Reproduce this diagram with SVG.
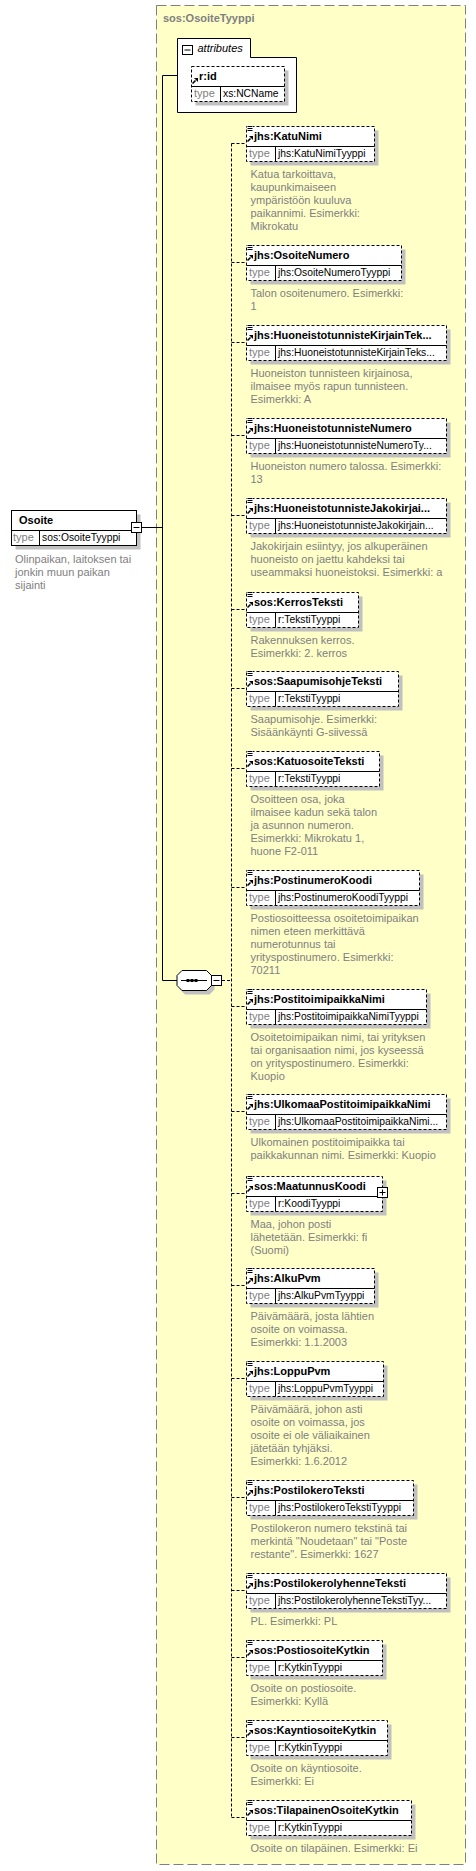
<svg xmlns="http://www.w3.org/2000/svg" width="476" height="1871" viewBox="0 0 476 1871">
<style>
text{font-family:"Liberation Sans",Arial,sans-serif}
.nm{font-size:11px;font-weight:bold;fill:#000}
.tl{font-size:11px;fill:#808080}
.tv{font-size:10.3px;fill:#000}
.ds{font-size:11px;fill:#808080}
.ttl{font-size:11px;font-weight:bold;fill:#808080}
.box{fill:#fff;stroke:#000;stroke-width:1}
.opt{fill:#fff;stroke:#000;stroke-width:1;stroke-dasharray:3,2}
.sh{fill:#c0c0c0}
.ln{stroke:#000;stroke-width:1;fill:none}
.dl{stroke:#000;stroke-width:1;fill:none;stroke-dasharray:3,2}
</style>
<defs>
<g id="docicon"><rect x="-0.5" y="-0.5" width="6" height="5.5" fill="#fff"/><path d="M0,0.5h5M0,2.5h5M0,4.5h5" stroke="#000" stroke-width="1"/></g>
<g id="refarrow"><path d="M0.5,5.5L3.5,2.5" stroke="#000" stroke-width="1.6"/><path d="M2,0H6V4Z" fill="#000"/></g>
</defs>
<rect x="0" y="0" width="476" height="1871" fill="#fff"/>
<rect x="156.5" y="5.5" width="309" height="1859" fill="#ffffc8" stroke="#808080" stroke-width="1" stroke-dasharray="10,4"/>
<text class="ttl" x="163" y="22">sos:OsoiteTyyppi</text>

<g id="connectors">
<path class="ln" d="M141.5,527.5H162.5M162.5,75.5V980.5M162.5,75.5H177.5M162.5,980.5H177"/>
<path class="dl" d="M222,980.5H231.5M231.5,143.5V1817.5"/>
<path class="dl" d="M231.5,143.5H246M231.5,262.5H246M231.5,342.5H246M231.5,435.5H246M231.5,515.5H246M231.5,609.5H246M231.5,688.5H246M231.5,768.5H246M231.5,887.5H246M231.5,1006.5H246M231.5,1111.5H246M231.5,1193.5H246M231.5,1285.5H246M231.5,1378.5H246M231.5,1497.5H246M231.5,1590.5H246M231.5,1657.5H246M231.5,1737.5H246M231.5,1817.5H246"/>
</g>

<g id="Osoite">
<rect class="sh" x="15.5" y="514.5" width="125" height="35"/>
<rect class="box" x="11.5" y="510.5" width="125" height="35"/>
<path class="ln" d="M11.5,530.5H136.5M39.5,530.5V545.5"/>
<text class="nm" x="19" y="524">Osoite</text>
<text class="tl" x="13" y="541">type</text>
<text class="tv" x="42" y="541">sos:OsoiteTyyppi</text>
<rect class="box" x="131.5" y="522.5" width="10" height="10"/>
<path class="ln" d="M133.5,527.5H139.5"/>
<text class="ds" x="15" y="563">Olinpaikan, laitoksen tai</text>
<text class="ds" x="15" y="576">jonkin muun paikan</text>
<text class="ds" x="15" y="589">sijainti</text>
</g>

<g id="attributes">
<path class="box" d="M177.5,38.5H250.5V57.5H296.5V112.5H177.5Z"/>
<rect class="box" x="182.5" y="45.5" width="10" height="9"/>
<path class="ln" d="M184.5,50H190.5"/>
<text x="197.5" y="51.5" style="font-size:11px;font-style:italic;fill:#000">attributes</text>
</g>

<g id="r_id">
<rect class="sh" x="195.5" y="70.5" width="93" height="35"/>
<rect class="opt" x="191.5" y="66.5" width="93" height="35"/>
<path class="ln" d="M191.5,86.5H284.5M220.5,86.5V101.5"/>
<use href="#refarrow" x="192" y="78"/>
<text class="nm" x="199" y="80">r:id</text>
<text class="tl" x="194" y="97">type</text>
<text class="tv" x="223" y="97">xs:NCName</text>
</g>

<g id="sequence">
<path class="sh" d="M185,974.5H209.5L214.5,979.5V989.5L209.5,994.5H185L180,989.5V979.5Z"/>
<path class="box" d="M182,970.5H206.5L211.5,975.5V985.5L206.5,990.5H182L177,985.5V975.5Z"/>
<path class="ln" d="M181,980.5H207"/>
<rect x="186.5" y="979" width="3" height="3" fill="#000"/>
<rect x="190.5" y="979" width="3" height="3" fill="#000"/>
<rect x="194.5" y="979" width="3" height="3" fill="#000"/>
<rect class="box" x="211.5" y="975.5" width="10" height="10"/>
<path class="ln" d="M213.5,980.5H219.5"/>
</g>

<g id="KatuNimi" transform="translate(0,126)">
<rect class="sh" x="250.5" y="4.5" width="128" height="35"/>
<rect class="opt" x="246.5" y="0.5" width="128" height="35"/>
<path class="ln" d="M246.5,20.5H374.5M275.5,20.5V35.5"/>
<use href="#docicon" x="247.5" y="0"/><use href="#refarrow" x="247" y="10"/>
<text class="nm" x="254" y="14">jhs:KatuNimi</text>
<text class="tl" x="249" y="31">type</text>
<text class="tv" x="278" y="31">jhs:KatuNimiTyyppi</text>
<text class="ds" x="250.5" y="52">Katua tarkoittava,</text>
<text class="ds" x="250.5" y="65">kaupunkimaiseen</text>
<text class="ds" x="250.5" y="78">ympäristöön kuuluva</text>
<text class="ds" x="250.5" y="91">paikannimi. Esimerkki:</text>
<text class="ds" x="250.5" y="104">Mikrokatu</text>
</g>

<g id="OsoiteNumero" transform="translate(0,245)">
<rect class="sh" x="250.5" y="4.5" width="155" height="35"/>
<rect class="opt" x="246.5" y="0.5" width="155" height="35"/>
<path class="ln" d="M246.5,20.5H401.5M275.5,20.5V35.5"/>
<use href="#docicon" x="247.5" y="0"/><use href="#refarrow" x="247" y="10"/>
<text class="nm" x="254" y="14">jhs:OsoiteNumero</text>
<text class="tl" x="249" y="31">type</text>
<text class="tv" x="278" y="31">jhs:OsoiteNumeroTyyppi</text>
<text class="ds" x="250.5" y="52">Talon osoitenumero. Esimerkki:</text>
<text class="ds" x="250.5" y="65">1</text>
</g>

<g id="HuoneistotunnisteKirjainTeksti" transform="translate(0,325)">
<rect class="sh" x="250.5" y="4.5" width="200" height="35"/>
<rect class="opt" x="246.5" y="0.5" width="200" height="35"/>
<path class="ln" d="M246.5,20.5H446.5M275.5,20.5V35.5"/>
<use href="#docicon" x="247.5" y="0"/><use href="#refarrow" x="247" y="10"/>
<text class="nm" x="254" y="14">jhs:HuoneistotunnisteKirjainTek...</text>
<text class="tl" x="249" y="31">type</text>
<text class="tv" x="278" y="31">jhs:HuoneistotunnisteKirjainTeks...</text>
<text class="ds" x="250.5" y="52">Huoneiston tunnisteen kirjainosa,</text>
<text class="ds" x="250.5" y="65">ilmaisee myös rapun tunnisteen.</text>
<text class="ds" x="250.5" y="78">Esimerkki: A</text>
</g>

<g id="HuoneistotunnisteNumero" transform="translate(0,418)">
<rect class="sh" x="250.5" y="4.5" width="200" height="35"/>
<rect class="opt" x="246.5" y="0.5" width="200" height="35"/>
<path class="ln" d="M246.5,20.5H446.5M275.5,20.5V35.5"/>
<use href="#docicon" x="247.5" y="0"/><use href="#refarrow" x="247" y="10"/>
<text class="nm" x="254" y="14">jhs:HuoneistotunnisteNumero</text>
<text class="tl" x="249" y="31">type</text>
<text class="tv" x="278" y="31">jhs:HuoneistotunnisteNumeroTy...</text>
<text class="ds" x="250.5" y="52">Huoneiston numero talossa. Esimerkki:</text>
<text class="ds" x="250.5" y="65">13</text>
</g>

<g id="HuoneistotunnisteJakokirjain" transform="translate(0,498)">
<rect class="sh" x="250.5" y="4.5" width="200" height="35"/>
<rect class="opt" x="246.5" y="0.5" width="200" height="35"/>
<path class="ln" d="M246.5,20.5H446.5M275.5,20.5V35.5"/>
<use href="#docicon" x="247.5" y="0"/><use href="#refarrow" x="247" y="10"/>
<text class="nm" x="254" y="14">jhs:HuoneistotunnisteJakokirjai...</text>
<text class="tl" x="249" y="31">type</text>
<text class="tv" x="278" y="31">jhs:HuoneistotunnisteJakokirjain...</text>
<text class="ds" x="250.5" y="52">Jakokirjain esiintyy, jos alkuperäinen</text>
<text class="ds" x="250.5" y="65">huoneisto on jaettu kahdeksi tai</text>
<text class="ds" x="250.5" y="78">useammaksi huoneistoksi. Esimerkki: a</text>
</g>

<g id="KerrosTeksti" transform="translate(0,592)">
<rect class="sh" x="250.5" y="4.5" width="112" height="35"/>
<rect class="opt" x="246.5" y="0.5" width="112" height="35"/>
<path class="ln" d="M246.5,20.5H358.5M275.5,20.5V35.5"/>
<use href="#docicon" x="247.5" y="0"/><use href="#refarrow" x="247" y="10"/>
<text class="nm" x="254" y="14">sos:KerrosTeksti</text>
<text class="tl" x="249" y="31">type</text>
<text class="tv" x="278" y="31">r:TekstiTyyppi</text>
<text class="ds" x="250.5" y="52">Rakennuksen kerros.</text>
<text class="ds" x="250.5" y="65">Esimerkki: 2. kerros</text>
</g>

<g id="SaapumisohjeTeksti" transform="translate(0,671)">
<rect class="sh" x="250.5" y="4.5" width="152" height="35"/>
<rect class="opt" x="246.5" y="0.5" width="152" height="35"/>
<path class="ln" d="M246.5,20.5H398.5M275.5,20.5V35.5"/>
<use href="#docicon" x="247.5" y="0"/><use href="#refarrow" x="247" y="10"/>
<text class="nm" x="254" y="14">sos:SaapumisohjeTeksti</text>
<text class="tl" x="249" y="31">type</text>
<text class="tv" x="278" y="31">r:TekstiTyyppi</text>
<text class="ds" x="250.5" y="52">Saapumisohje. Esimerkki:</text>
<text class="ds" x="250.5" y="65">Sisäänkäynti G-siivessä</text>
</g>

<g id="KatuosoiteTeksti" transform="translate(0,751)">
<rect class="sh" x="250.5" y="4.5" width="133" height="35"/>
<rect class="opt" x="246.5" y="0.5" width="133" height="35"/>
<path class="ln" d="M246.5,20.5H379.5M275.5,20.5V35.5"/>
<use href="#docicon" x="247.5" y="0"/><use href="#refarrow" x="247" y="10"/>
<text class="nm" x="254" y="14">sos:KatuosoiteTeksti</text>
<text class="tl" x="249" y="31">type</text>
<text class="tv" x="278" y="31">r:TekstiTyyppi</text>
<text class="ds" x="250.5" y="52">Osoitteen osa, joka</text>
<text class="ds" x="250.5" y="65">ilmaisee kadun sekä talon</text>
<text class="ds" x="250.5" y="78">ja asunnon numeron.</text>
<text class="ds" x="250.5" y="91">Esimerkki: Mikrokatu 1,</text>
<text class="ds" x="250.5" y="104">huone F2-011</text>
</g>

<g id="PostinumeroKoodi" transform="translate(0,870)">
<rect class="sh" x="250.5" y="4.5" width="173" height="35"/>
<rect class="opt" x="246.5" y="0.5" width="173" height="35"/>
<path class="ln" d="M246.5,20.5H419.5M275.5,20.5V35.5"/>
<use href="#docicon" x="247.5" y="0"/><use href="#refarrow" x="247" y="10"/>
<text class="nm" x="254" y="14">jhs:PostinumeroKoodi</text>
<text class="tl" x="249" y="31">type</text>
<text class="tv" x="278" y="31">jhs:PostinumeroKoodiTyyppi</text>
<text class="ds" x="250.5" y="52">Postiosoitteessa osoitetoimipaikan</text>
<text class="ds" x="250.5" y="65">nimen eteen merkittävä</text>
<text class="ds" x="250.5" y="78">numerotunnus tai</text>
<text class="ds" x="250.5" y="91">yrityspostinumero. Esimerkki:</text>
<text class="ds" x="250.5" y="104">70211</text>
</g>

<g id="PostitoimipaikkaNimi" transform="translate(0,989)">
<rect class="sh" x="250.5" y="4.5" width="180" height="35"/>
<rect class="opt" x="246.5" y="0.5" width="180" height="35"/>
<path class="ln" d="M246.5,20.5H426.5M275.5,20.5V35.5"/>
<use href="#docicon" x="247.5" y="0"/><use href="#refarrow" x="247" y="10"/>
<text class="nm" x="254" y="14">jhs:PostitoimipaikkaNimi</text>
<text class="tl" x="249" y="31">type</text>
<text class="tv" x="278" y="31">jhs:PostitoimipaikkaNimiTyyppi</text>
<text class="ds" x="250.5" y="52">Osoitetoimipaikan nimi, tai yrityksen</text>
<text class="ds" x="250.5" y="65">tai organisaation nimi, jos kyseessä</text>
<text class="ds" x="250.5" y="78">on yrityspostinumero. Esimerkki:</text>
<text class="ds" x="250.5" y="91">Kuopio</text>
</g>

<g id="UlkomaaPostitoimipaikkaNimi" transform="translate(0,1094)">
<rect class="sh" x="250.5" y="4.5" width="200" height="35"/>
<rect class="opt" x="246.5" y="0.5" width="200" height="35"/>
<path class="ln" d="M246.5,20.5H446.5M275.5,20.5V35.5"/>
<use href="#docicon" x="247.5" y="0"/><use href="#refarrow" x="247" y="10"/>
<text class="nm" x="254" y="14">jhs:UlkomaaPostitoimipaikkaNimi</text>
<text class="tl" x="249" y="31">type</text>
<text class="tv" x="278" y="31">jhs:UlkomaaPostitoimipaikkaNimi...</text>
<text class="ds" x="250.5" y="52">Ulkomainen postitoimipaikka tai</text>
<text class="ds" x="250.5" y="65">paikkakunnan nimi. Esimerkki: Kuopio</text>
</g>

<g id="MaatunnusKoodi" transform="translate(0,1176)">
<rect class="sh" x="250.5" y="4.5" width="136" height="35"/>
<rect class="opt" x="246.5" y="0.5" width="136" height="35"/>
<path class="ln" d="M246.5,20.5H382.5M275.5,20.5V35.5"/>
<use href="#docicon" x="247.5" y="0"/><use href="#refarrow" x="247" y="10"/>
<text class="nm" x="254" y="14">sos:MaatunnusKoodi</text>
<text class="tl" x="249" y="31">type</text>
<text class="tv" x="278" y="31">r:KoodiTyyppi</text>
<rect class="box" x="377.5" y="11.5" width="10" height="10"/>
<path class="ln" d="M379.5,16.5H385.5M382.5,13.5V19.5"/>
<text class="ds" x="250.5" y="52">Maa, johon posti</text>
<text class="ds" x="250.5" y="65">lähetetään. Esimerkki: fi</text>
<text class="ds" x="250.5" y="78">(Suomi)</text>
</g>

<g id="AlkuPvm" transform="translate(0,1268)">
<rect class="sh" x="250.5" y="4.5" width="128" height="35"/>
<rect class="opt" x="246.5" y="0.5" width="128" height="35"/>
<path class="ln" d="M246.5,20.5H374.5M275.5,20.5V35.5"/>
<use href="#docicon" x="247.5" y="0"/><use href="#refarrow" x="247" y="10"/>
<text class="nm" x="254" y="14">jhs:AlkuPvm</text>
<text class="tl" x="249" y="31">type</text>
<text class="tv" x="278" y="31">jhs:AlkuPvmTyyppi</text>
<text class="ds" x="250.5" y="52">Päivämäärä, josta lähtien</text>
<text class="ds" x="250.5" y="65">osoite on voimassa.</text>
<text class="ds" x="250.5" y="78">Esimerkki: 1.1.2003</text>
</g>

<g id="LoppuPvm" transform="translate(0,1361)">
<rect class="sh" x="250.5" y="4.5" width="137" height="35"/>
<rect class="opt" x="246.5" y="0.5" width="137" height="35"/>
<path class="ln" d="M246.5,20.5H383.5M275.5,20.5V35.5"/>
<use href="#docicon" x="247.5" y="0"/><use href="#refarrow" x="247" y="10"/>
<text class="nm" x="254" y="14">jhs:LoppuPvm</text>
<text class="tl" x="249" y="31">type</text>
<text class="tv" x="278" y="31">jhs:LoppuPvmTyyppi</text>
<text class="ds" x="250.5" y="52">Päivämäärä, johon asti</text>
<text class="ds" x="250.5" y="65">osoite on voimassa, jos</text>
<text class="ds" x="250.5" y="78">osoite ei ole väliaikainen</text>
<text class="ds" x="250.5" y="91">jätetään tyhjäksi.</text>
<text class="ds" x="250.5" y="104">Esimerkki: 1.6.2012</text>
</g>

<g id="PostilokeroTeksti" transform="translate(0,1480)">
<rect class="sh" x="250.5" y="4.5" width="167" height="35"/>
<rect class="opt" x="246.5" y="0.5" width="167" height="35"/>
<path class="ln" d="M246.5,20.5H413.5M275.5,20.5V35.5"/>
<use href="#docicon" x="247.5" y="0"/><use href="#refarrow" x="247" y="10"/>
<text class="nm" x="254" y="14">jhs:PostilokeroTeksti</text>
<text class="tl" x="249" y="31">type</text>
<text class="tv" x="278" y="31">jhs:PostilokeroTekstiTyyppi</text>
<text class="ds" x="250.5" y="52">Postilokeron numero tekstinä tai</text>
<text class="ds" x="250.5" y="65">merkintä "Noudetaan" tai "Poste</text>
<text class="ds" x="250.5" y="78">restante". Esimerkki: 1627</text>
</g>

<g id="PostilokerolyhenneTeksti" transform="translate(0,1573)">
<rect class="sh" x="250.5" y="4.5" width="200" height="35"/>
<rect class="opt" x="246.5" y="0.5" width="200" height="35"/>
<path class="ln" d="M246.5,20.5H446.5M275.5,20.5V35.5"/>
<use href="#docicon" x="247.5" y="0"/><use href="#refarrow" x="247" y="10"/>
<text class="nm" x="254" y="14">jhs:PostilokerolyhenneTeksti</text>
<text class="tl" x="249" y="31">type</text>
<text class="tv" x="278" y="31">jhs:PostilokerolyhenneTekstiTyy...</text>
<text class="ds" x="250.5" y="52">PL. Esimerkki: PL</text>
</g>

<g id="PostiosoiteKytkin" transform="translate(0,1640)">
<rect class="sh" x="250.5" y="4.5" width="136" height="35"/>
<rect class="opt" x="246.5" y="0.5" width="136" height="35"/>
<path class="ln" d="M246.5,20.5H382.5M275.5,20.5V35.5"/>
<use href="#docicon" x="247.5" y="0"/><use href="#refarrow" x="247" y="10"/>
<text class="nm" x="254" y="14">sos:PostiosoiteKytkin</text>
<text class="tl" x="249" y="31">type</text>
<text class="tv" x="278" y="31">r:KytkinTyyppi</text>
<text class="ds" x="250.5" y="52">Osoite on postiosoite.</text>
<text class="ds" x="250.5" y="65">Esimerkki: Kyllä</text>
</g>

<g id="KayntiosoiteKytkin" transform="translate(0,1720)">
<rect class="sh" x="250.5" y="4.5" width="141" height="35"/>
<rect class="opt" x="246.5" y="0.5" width="141" height="35"/>
<path class="ln" d="M246.5,20.5H387.5M275.5,20.5V35.5"/>
<use href="#docicon" x="247.5" y="0"/><use href="#refarrow" x="247" y="10"/>
<text class="nm" x="254" y="14">sos:KayntiosoiteKytkin</text>
<text class="tl" x="249" y="31">type</text>
<text class="tv" x="278" y="31">r:KytkinTyyppi</text>
<text class="ds" x="250.5" y="52">Osoite on käyntiosoite.</text>
<text class="ds" x="250.5" y="65">Esimerkki: Ei</text>
</g>

<g id="TilapainenOsoiteKytkin" transform="translate(0,1800)">
<rect class="sh" x="250.5" y="4.5" width="165" height="35"/>
<rect class="opt" x="246.5" y="0.5" width="165" height="35"/>
<path class="ln" d="M246.5,20.5H411.5M275.5,20.5V35.5"/>
<use href="#docicon" x="247.5" y="0"/><use href="#refarrow" x="247" y="10"/>
<text class="nm" x="254" y="14">sos:TilapainenOsoiteKytkin</text>
<text class="tl" x="249" y="31">type</text>
<text class="tv" x="278" y="31">r:KytkinTyyppi</text>
<text class="ds" x="250.5" y="52">Osoite on tilapäinen. Esimerkki: Ei</text>
</g>
</svg>
